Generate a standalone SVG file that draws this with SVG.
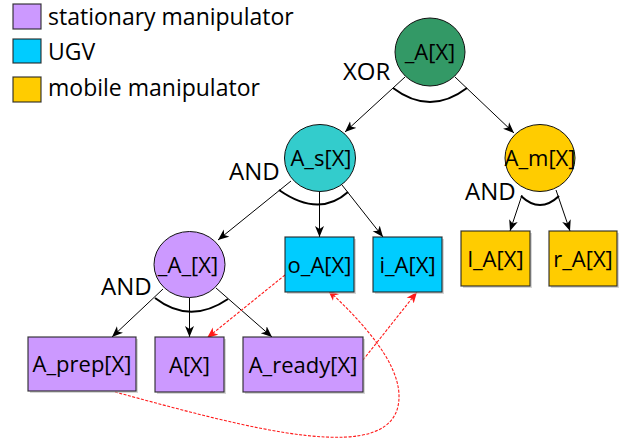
<svg xmlns="http://www.w3.org/2000/svg" width="623" height="439" viewBox="0 0 623 439">
<defs>
<style>
text{font-family:"Open Sans","Noto Sans","DejaVu Sans",sans-serif;font-size:22px;fill:#000}
.c{text-anchor:middle}
.lbl{font-size:24px}
.leg{font-size:23px}
.node{stroke:#111;stroke-width:1}
.box{stroke:#1a1a1a;stroke-opacity:0.85;stroke-width:1.2}
.sh{fill:#bbb;opacity:0.6}
.e{stroke:#000;stroke-width:1;fill:none;marker-end:url(#ah)}
.r{stroke:#ff1a1a;stroke-width:1.1;stroke-dasharray:3,1.5;fill:none;marker-end:url(#rh)}
.arc{stroke:#000;stroke-width:2;fill:none}
.pur{fill:#cc99ff}.ugv{fill:#00ccff}.yel{fill:#ffcc00}
</style>
<marker id="ah" markerUnits="userSpaceOnUse" markerWidth="12" markerHeight="10" refX="11" refY="5" orient="auto">
<path d="M0,0.5 L11,5 L0,9.5 L3,5 z" fill="#000"/>
</marker>
<marker id="rh" markerUnits="userSpaceOnUse" markerWidth="12" markerHeight="10" refX="11" refY="5" orient="auto">
<path d="M0,0.5 L11,5 L0,9.5 L3,5 z" fill="#ff1a1a"/>
</marker>
</defs>
<g id="legend">
<rect x="13" y="4" width="28" height="25" class="pur box"/>
<text class="leg" x="48" y="25">stationary manipulator</text>
<rect x="13" y="39" width="28" height="24" class="ugv box"/>
<text class="leg" x="48" y="60">UGV</text>
<rect x="13" y="77" width="28" height="25" class="yel box"/>
<text class="leg" x="48" y="96">mobile manipulator</text>
</g>
<g id="connectors">
<line class="e" x1="405" y1="77" x2="345" y2="132"/>
<line class="e" x1="455" y1="77" x2="514" y2="133"/>
<line class="e" x1="291" y1="181" x2="218" y2="240"/>
<line class="e" x1="319.5" y1="192" x2="319.5" y2="237"/>
<line class="e" x1="342" y1="185" x2="383" y2="237"/>
<line class="e" x1="522" y1="195" x2="510" y2="231"/>
<line class="e" x1="556" y1="190" x2="570" y2="231"/>
<line class="e" x1="163" y1="289" x2="112" y2="337"/>
<line class="e" x1="189.5" y1="298" x2="189.5" y2="337"/>
<line class="e" x1="216" y1="288" x2="272" y2="337"/>
<path class="arc" d="M393,88 Q430,116 467,88"/>
<path class="arc" d="M279,190 Q319,218 348,192"/>
<path class="arc" d="M521,196 Q540,214 559,196"/>
<path class="arc" d="M155,298 Q190,325 228,299"/>
<text class="lbl" x="343" y="80">XOR</text>
<text class="lbl" x="229" y="180">AND</text>
<text class="lbl" x="465" y="200">AND</text>
<text class="lbl" x="101" y="295">AND</text>
<line class="r" x1="285" y1="275" x2="207" y2="338"/>
<line class="r" x1="363" y1="360" x2="417" y2="292"/>
<path class="r" d="M115,392 C245,427 401,472 399,395 C398,360 360,320 328,290"/>
</g>
<g id="n_A">
<ellipse cx="430" cy="52" rx="35" ry="34" fill="#339966" class="node"/>
<text class="c" x="430" y="60">_A[X]</text>
</g>
<g id="nA_s">
<ellipse cx="320" cy="158" rx="35.5" ry="33.5" fill="#33cccc" class="node"/>
<text class="c" x="321" y="166">A_s[X]</text>
</g>
<g id="nA_m">
<ellipse cx="540" cy="158" rx="35" ry="33.5" fill="#ffcc00" class="node"/>
<text class="c" x="540" y="166">A_m[X]</text>
</g>
<g id="n_A_">
<ellipse cx="189.5" cy="264.5" rx="35.5" ry="33" class="pur node"/>
<text class="c" x="188" y="273">_A_[X]</text>
</g>
<g id="no_A">
<rect x="287" y="239" width="69" height="55" class="sh"/>
<rect x="285" y="237" width="69" height="55" class="ugv box"/>
<text class="c" x="319.5" y="272.5">o_A[X]</text>
</g>
<g id="ni_A">
<rect x="375" y="239" width="69" height="55" class="sh"/>
<rect x="373" y="237" width="69" height="55" class="ugv box"/>
<text class="c" x="407.5" y="272.5">i_A[X]</text>
</g>
<g id="nl_A">
<rect x="463" y="233" width="69" height="55" class="sh"/>
<rect x="461" y="231" width="69" height="55" class="yel box"/>
<text class="c" x="495.5" y="266.5">l_A[X]</text>
</g>
<g id="nr_A">
<rect x="551" y="233" width="68" height="55" class="sh"/>
<rect x="549" y="231" width="68" height="55" class="yel box"/>
<text class="c" x="583" y="266.5">r_A[X]</text>
</g>
<g id="nA_prep">
<rect x="30" y="339" width="108" height="54" class="sh"/>
<rect x="28" y="337" width="108" height="54" class="pur box"/>
<text class="c" x="82" y="372">A_prep[X]</text>
</g>
<g id="nA">
<rect x="157" y="339" width="69" height="55" class="sh"/>
<rect x="155" y="337" width="69" height="55" class="pur box"/>
<text class="c" x="189.5" y="372.5">A[X]</text>
</g>
<g id="nA_ready">
<rect x="245" y="339" width="120" height="55" class="sh"/>
<rect x="243" y="337" width="120" height="55" class="pur box"/>
<text class="c" x="303" y="372.5">A_ready[X]</text>
</g>
</svg>
